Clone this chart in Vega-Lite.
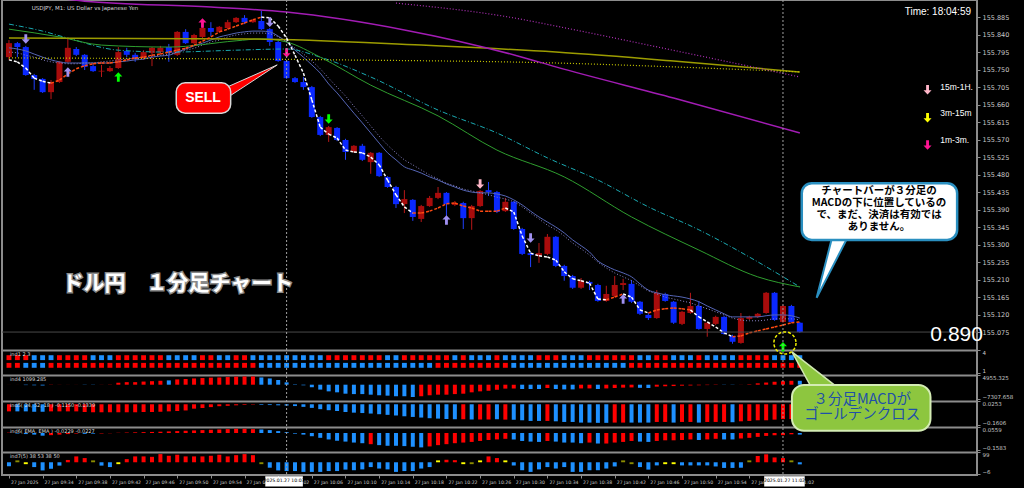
{
"$schema":"https://vega.github.io/schema/vega-lite/v6.json",
"width":975,"height":475,
"autosize":{"type":"none"},
"padding":{"left":2,"top":0,"right":47,"bottom":13},
"background":"#000000",
"config":{"view":{"stroke":"#8c8c8c","strokeWidth":2},"axis":{"labelOverlap":false}},
"datasets":{
"bars":[
{"t":"2025-01-27T09:30","o":155.782,"h":155.826,"l":155.775,"c":155.818,"m1":155.775,"u":0,"m2":155.806,"m3":155.795,"s3":"r","s2":"r","v4":20,"k4":"r","v5":-0.055,"k5":"r","v6":0.003,"k6":"r","v7":31,"k7":"b"},
{"t":"2025-01-27T09:31","o":155.818,"h":155.821,"l":155.782,"c":155.808,"m1":155.770,"u":0,"m2":155.803,"m3":155.793,"s3":"r","s2":"r","v4":20,"k4":"r","v5":-0.055,"k5":"b","v6":-0.005,"k6":"b","v7":59,"k7":"o"},
{"t":"2025-01-27T09:32","o":155.808,"h":155.811,"l":155.734,"c":155.736,"m1":155.754,"u":0,"m2":155.798,"m3":155.787,"s3":"r","s2":"b","v4":-200,"k4":"b","v5":-0.055,"k5":"b","v6":-0.010,"k6":"b","v7":41,"k7":"y"},
{"t":"2025-01-27T09:33","o":155.736,"h":155.739,"l":155.698,"c":155.726,"m1":155.728,"u":0,"m2":155.790,"m3":155.782,"s3":"b","s2":"b","v4":-300,"k4":"b","v5":-0.058,"k5":"b","v6":-0.015,"k6":"b","v7":27,"k7":"b"},
{"t":"2025-01-27T09:34","o":155.726,"h":155.728,"l":155.690,"c":155.692,"m1":155.720,"u":0,"m2":155.782,"m3":155.775,"s3":"b","s2":"b","v4":-400,"k4":"b","v5":-0.058,"k5":"b","v6":-0.025,"k6":"b","v7":11,"k7":"b"},
{"t":"2025-01-27T09:35","o":155.692,"h":155.723,"l":155.674,"c":155.718,"m1":155.715,"u":1,"m2":155.775,"m3":155.770,"s3":"b","s2":"r","v4":-100,"k4":"r","v5":-0.055,"k5":"r","v6":-0.020,"k6":"r","v7":19,"k7":"b"},
{"t":"2025-01-27T09:36","o":155.718,"h":155.772,"l":155.716,"c":155.770,"m1":155.723,"u":1,"m2":155.770,"m3":155.767,"s3":"r","s2":"r","v4":-50,"k4":"r","v5":-0.055,"k5":"r","v6":-0.015,"k6":"r","v7":34,"k7":"b"},
{"t":"2025-01-27T09:37","o":155.770,"h":155.829,"l":155.767,"c":155.806,"m1":155.739,"u":1,"m2":155.767,"m3":155.765,"s3":"r","s2":"r","v4":30,"k4":"r","v5":-0.055,"k5":"r","v6":-0.010,"k6":"r","v7":61,"k7":"r"},
{"t":"2025-01-27T09:38","o":155.803,"h":155.808,"l":155.785,"c":155.788,"m1":155.752,"u":1,"m2":155.767,"m3":155.765,"s3":"r","s2":"r","v4":30,"k4":"r","v5":-0.055,"k5":"r","v6":-0.005,"k6":"r","v7":78,"k7":"r"},
{"t":"2025-01-27T09:39","o":155.788,"h":155.790,"l":155.749,"c":155.757,"m1":155.760,"u":1,"m2":155.767,"m3":155.767,"s3":"r","s2":"r","v4":-100,"k4":"b","v5":-0.060,"k5":"r","v6":-0.008,"k6":"b","v7":70,"k7":"r"},
{"t":"2025-01-27T09:40","o":155.759,"h":155.764,"l":155.744,"c":155.746,"m1":155.765,"u":1,"m2":155.767,"m3":155.767,"s3":"b","s2":"r","v4":-100,"k4":"b","v5":-0.062,"k5":"r","v6":-0.006,"k6":"b","v7":59,"k7":"o"},
{"t":"2025-01-27T09:41","o":155.745,"h":155.762,"l":155.731,"c":155.747,"m1":155.767,"u":1,"m2":155.767,"m3":155.770,"s3":"b","s2":"r","v4":50,"k4":"r","v5":-0.062,"k5":"r","v6":-0.004,"k6":"r","v7":34,"k7":"b"},
{"t":"2025-01-27T09:42","o":155.746,"h":155.759,"l":155.744,"c":155.754,"m1":155.767,"u":1,"m2":155.767,"m3":155.772,"s3":"b","s2":"r","v4":100,"k4":"r","v5":-0.062,"k5":"r","v6":-0.002,"k6":"r","v7":27,"k7":"b"},
{"t":"2025-01-27T09:43","o":155.754,"h":155.808,"l":155.752,"c":155.795,"m1":155.770,"u":1,"m2":155.770,"m3":155.775,"s3":"r","s2":"r","v4":1000,"k4":"r","v5":-0.062,"k5":"r","v6":0.002,"k6":"r","v7":41,"k7":"y"},
{"t":"2025-01-27T09:44","o":155.798,"h":155.806,"l":155.782,"c":155.788,"m1":155.775,"u":1,"m2":155.772,"m3":155.777,"s3":"r","s2":"r","v4":1300,"k4":"r","v5":-0.062,"k5":"r","v6":0.004,"k6":"r","v7":65,"k7":"r"},
{"t":"2025-01-27T09:45","o":155.788,"h":155.793,"l":155.770,"c":155.777,"m1":155.780,"u":1,"m2":155.775,"m3":155.780,"s3":"r","s2":"r","v4":1300,"k4":"r","v5":-0.062,"k5":"r","v6":0.006,"k6":"r","v7":78,"k7":"r"},
{"t":"2025-01-27T09:46","o":155.780,"h":155.800,"l":155.775,"c":155.795,"m1":155.782,"u":1,"m2":155.777,"m3":155.782,"s3":"r","s2":"r","v4":1600,"k4":"r","v5":-0.060,"k5":"r","v6":0.008,"k6":"r","v7":78,"k7":"r"},
{"t":"2025-01-27T09:47","o":155.793,"h":155.808,"l":155.759,"c":155.806,"m1":155.787,"u":1,"m2":155.782,"m3":155.785,"s3":"r","s2":"r","v4":1800,"k4":"r","v5":-0.060,"k5":"r","v6":0.010,"k6":"r","v7":76,"k7":"r"},
{"t":"2025-01-27T09:48","o":155.795,"h":155.811,"l":155.790,"c":155.806,"m1":155.790,"u":1,"m2":155.785,"m3":155.787,"s3":"r","s2":"r","v4":2000,"k4":"r","v5":-0.058,"k5":"r","v6":0.012,"k6":"r","v7":89,"k7":"r"},
{"t":"2025-01-27T09:49","o":155.808,"h":155.816,"l":155.770,"c":155.793,"m1":155.795,"u":1,"m2":155.787,"m3":155.790,"s3":"b","s2":"r","v4":2200,"k4":"b","v5":-0.055,"k5":"r","v6":0.015,"k6":"r","v7":81,"k7":"r"},
{"t":"2025-01-27T09:50","o":155.788,"h":155.849,"l":155.785,"c":155.847,"m1":155.800,"u":1,"m2":155.795,"m3":155.795,"s3":"b","s2":"r","v4":2700,"k4":"r","v5":-0.052,"k5":"r","v6":0.018,"k6":"r","v7":86,"k7":"r"},
{"t":"2025-01-27T09:51","o":155.847,"h":155.854,"l":155.816,"c":155.818,"m1":155.805,"u":1,"m2":155.803,"m3":155.800,"s3":"b","s2":"r","v4":2900,"k4":"r","v5":-0.048,"k5":"r","v6":0.021,"k6":"r","v7":78,"k7":"r"},
{"t":"2025-01-27T09:52","o":155.818,"h":155.842,"l":155.816,"c":155.839,"m1":155.813,"u":1,"m2":155.811,"m3":155.805,"s3":"b","s2":"r","v4":3200,"k4":"r","v5":-0.034,"k5":"r","v6":0.024,"k6":"r","v7":78,"k7":"r"},
{"t":"2025-01-27T09:53","o":155.834,"h":155.865,"l":155.831,"c":155.857,"m1":155.823,"u":1,"m2":155.818,"m3":155.813,"s3":"r","s2":"r","v4":3400,"k4":"r","v5":-0.029,"k5":"r","v6":0.027,"k6":"r","v7":78,"k7":"r"},
{"t":"2025-01-27T09:54","o":155.857,"h":155.872,"l":155.836,"c":155.847,"m1":155.834,"u":1,"m2":155.826,"m3":155.821,"s3":"r","s2":"r","v4":3600,"k4":"r","v5":-0.022,"k5":"r","v6":0.030,"k6":"r","v7":81,"k7":"r"},
{"t":"2025-01-27T09:55","o":155.847,"h":155.862,"l":155.844,"c":155.860,"m1":155.847,"u":1,"m2":155.834,"m3":155.826,"s3":"b","s2":"r","v4":3700,"k4":"r","v5":-0.015,"k5":"r","v6":0.033,"k6":"r","v7":86,"k7":"r"},
{"t":"2025-01-27T09:56","o":155.857,"h":155.878,"l":155.854,"c":155.872,"m1":155.854,"u":1,"m2":155.839,"m3":155.834,"s3":"b","s2":"r","v4":3900,"k4":"r","v5":-0.012,"k5":"r","v6":0.036,"k6":"r","v7":78,"k7":"r"},
{"t":"2025-01-27T09:57","o":155.872,"h":155.885,"l":155.870,"c":155.883,"m1":155.862,"u":1,"m2":155.844,"m3":155.839,"s3":"r","s2":"r","v4":4100,"k4":"r","v5":-0.008,"k5":"r","v6":0.039,"k6":"r","v7":84,"k7":"r"},
{"t":"2025-01-27T09:58","o":155.883,"h":155.890,"l":155.867,"c":155.872,"m1":155.870,"u":1,"m2":155.847,"m3":155.842,"s3":"r","s2":"r","v4":4200,"k4":"r","v5":-0.005,"k5":"r","v6":0.039,"k6":"r","v7":89,"k7":"r"},
{"t":"2025-01-27T09:59","o":155.872,"h":155.880,"l":155.870,"c":155.878,"m1":155.878,"u":1,"m2":155.849,"m3":155.844,"s3":"b","s2":"r","v4":4200,"k4":"r","v5":-0.003,"k5":"r","v6":0.036,"k6":"r","v7":84,"k7":"r"},
{"t":"2025-01-27T10:00","o":155.875,"h":155.901,"l":155.852,"c":155.854,"m1":155.885,"u":0,"m2":155.849,"m3":155.844,"s3":"b","s2":"b","v4":3700,"k4":"b","v5":-0.005,"k5":"b","v6":0.033,"k6":"b","v7":41,"k7":"o"},
{"t":"2025-01-27T10:01","o":155.854,"h":155.857,"l":155.811,"c":155.821,"m1":155.883,"u":0,"m2":155.847,"m3":155.842,"s3":"b","s2":"b","v4":3200,"k4":"b","v5":-0.006,"k5":"b","v6":0.027,"k6":"b","v7":24,"k7":"b"},
{"t":"2025-01-27T10:02","o":155.821,"h":155.824,"l":155.770,"c":155.772,"m1":155.862,"u":0,"m2":155.836,"m3":155.834,"s3":"b","s2":"b","v4":2400,"k4":"b","v5":-0.008,"k5":"b","v6":0.018,"k6":"b","v7":11,"k7":"b"},
{"t":"2025-01-27T10:03","o":155.772,"h":155.775,"l":155.726,"c":155.728,"m1":155.831,"u":0,"m2":155.821,"m3":155.821,"s3":"b","s2":"b","v4":1200,"k4":"b","v5":-0.010,"k5":"b","v6":0.008,"k6":"b","v7":8,"k7":"b"},
{"t":"2025-01-27T10:04","o":155.728,"h":155.731,"l":155.716,"c":155.718,"m1":155.787,"u":0,"m2":155.800,"m3":155.805,"s3":"b","s2":"b","v4":200,"k4":"b","v5":-0.014,"k5":"b","v6":-0.006,"k6":"b","v7":8,"k7":"b"},
{"t":"2025-01-27T10:05","o":155.718,"h":155.731,"l":155.698,"c":155.705,"m1":155.741,"u":0,"m2":155.782,"m3":155.790,"s3":"b","s2":"b","v4":-300,"k4":"b","v5":-0.020,"k5":"b","v6":-0.015,"k6":"b","v7":4,"k7":"b"},
{"t":"2025-01-27T10:06","o":155.705,"h":155.708,"l":155.626,"c":155.628,"m1":155.672,"u":0,"m2":155.762,"m3":155.772,"s3":"b","s2":"b","v4":-1300,"k4":"b","v5":-0.028,"k5":"b","v6":-0.030,"k6":"b","v7":4,"k7":"b"},
{"t":"2025-01-27T10:07","o":155.628,"h":155.631,"l":155.579,"c":155.582,"m1":155.602,"u":0,"m2":155.741,"m3":155.752,"s3":"b","s2":"b","v4":-2500,"k4":"b","v5":-0.038,"k5":"b","v6":-0.045,"k6":"b","v7":4,"k7":"b"},
{"t":"2025-01-27T10:08","o":155.582,"h":155.605,"l":155.564,"c":155.602,"m1":155.584,"u":0,"m2":155.713,"m3":155.728,"s3":"r","s2":"b","v4":-3400,"k4":"b","v5":-0.046,"k5":"b","v6":-0.060,"k6":"b","v7":8,"k7":"b"},
{"t":"2025-01-27T10:09","o":155.600,"h":155.602,"l":155.566,"c":155.569,"m1":155.574,"u":0,"m2":155.690,"m3":155.705,"s3":"r","s2":"b","v4":-3900,"k4":"b","v5":-0.052,"k5":"b","v6":-0.072,"k6":"b","v7":8,"k7":"b"},
{"t":"2025-01-27T10:10","o":155.569,"h":155.572,"l":155.518,"c":155.538,"m1":155.543,"u":0,"m2":155.664,"m3":155.682,"s3":"r","s2":"b","v4":-4600,"k4":"b","v5":-0.060,"k5":"b","v6":-0.080,"k6":"b","v7":15,"k7":"b"},
{"t":"2025-01-27T10:11","o":155.538,"h":155.556,"l":155.536,"c":155.554,"m1":155.538,"u":0,"m2":155.638,"m3":155.656,"s3":"r","s2":"b","v4":-4800,"k4":"b","v5":-0.065,"k5":"b","v6":-0.089,"k6":"b","v7":12,"k7":"b"},
{"t":"2025-01-27T10:12","o":155.554,"h":155.559,"l":155.515,"c":155.518,"m1":155.536,"u":0,"m2":155.613,"m3":155.631,"s3":"r","s2":"b","v4":-4800,"k4":"b","v5":-0.068,"k5":"b","v6":-0.095,"k6":"b","v7":16,"k7":"b"},
{"t":"2025-01-27T10:13","o":155.512,"h":155.538,"l":155.482,"c":155.536,"m1":155.525,"u":0,"m2":155.587,"m3":155.605,"s3":"r","s2":"b","v4":-5100,"k4":"b","v5":-0.072,"k5":"b","v6":-0.104,"k6":"r","v7":27,"k7":"b"},
{"t":"2025-01-27T10:14","o":155.536,"h":155.538,"l":155.474,"c":155.476,"m1":155.505,"u":0,"m2":155.561,"m3":155.579,"s3":"r","s2":"b","v4":-5400,"k4":"b","v5":-0.077,"k5":"b","v6":-0.113,"k6":"b","v7":20,"k7":"b"},
{"t":"2025-01-27T10:15","o":155.474,"h":155.476,"l":155.446,"c":155.448,"m1":155.466,"u":0,"m2":155.536,"m3":155.556,"s3":"b","s2":"b","v4":-5600,"k4":"b","v5":-0.082,"k5":"b","v6":-0.119,"k6":"b","v7":16,"k7":"b"},
{"t":"2025-01-27T10:16","o":155.448,"h":155.451,"l":155.394,"c":155.404,"m1":155.428,"u":0,"m2":155.518,"m3":155.536,"s3":"b","s2":"b","v4":-5900,"k4":"b","v5":-0.087,"k5":"b","v6":-0.119,"k6":"b","v7":4,"k7":"b"},
{"t":"2025-01-27T10:17","o":155.404,"h":155.440,"l":155.381,"c":155.417,"m1":155.397,"u":0,"m2":155.500,"m3":155.518,"s3":"r","s2":"b","v4":-5900,"k4":"b","v5":-0.093,"k5":"b","v6":-0.122,"k6":"b","v7":8,"k7":"b"},
{"t":"2025-01-27T10:18","o":155.415,"h":155.417,"l":155.361,"c":155.371,"m1":155.381,"u":1,"m2":155.492,"m3":155.505,"s3":"r","s2":"b","v4":-6300,"k4":"b","v5":-0.098,"k5":"b","v6":-0.128,"k6":"b","v7":8,"k7":"b"},
{"t":"2025-01-27T10:19","o":155.366,"h":155.402,"l":155.358,"c":155.399,"m1":155.381,"u":1,"m2":155.484,"m3":155.492,"s3":"r","s2":"b","v4":-5900,"k4":"r","v5":-0.103,"k5":"b","v6":-0.134,"k6":"b","v7":20,"k7":"b"},
{"t":"2025-01-27T10:20","o":155.399,"h":155.425,"l":155.397,"c":155.420,"m1":155.386,"u":1,"m2":155.474,"m3":155.479,"s3":"r","s2":"b","v4":-5400,"k4":"r","v5":-0.108,"k5":"b","v6":-0.125,"k6":"r","v7":27,"k7":"b"},
{"t":"2025-01-27T10:21","o":155.420,"h":155.448,"l":155.417,"c":155.433,"m1":155.394,"u":1,"m2":155.466,"m3":155.469,"s3":"r","s2":"r","v4":-5100,"k4":"r","v5":-0.111,"k5":"b","v6":-0.113,"k6":"r","v7":59,"k7":"y"},
{"t":"2025-01-27T10:22","o":155.433,"h":155.435,"l":155.358,"c":155.404,"m1":155.405,"u":1,"m2":155.456,"m3":155.458,"s3":"r","s2":"r","v4":-5100,"k4":"r","v5":-0.114,"k5":"b","v6":-0.104,"k6":"r","v7":62,"k7":"r"},
{"t":"2025-01-27T10:23","o":155.402,"h":155.412,"l":155.399,"c":155.407,"m1":155.407,"u":1,"m2":155.448,"m3":155.451,"s3":"b","s2":"r","v4":-4800,"k4":"r","v5":-0.116,"k5":"b","v6":-0.095,"k6":"r","v7":60,"k7":"r"},
{"t":"2025-01-27T10:24","o":155.407,"h":155.410,"l":155.340,"c":155.368,"m1":155.399,"u":1,"m2":155.440,"m3":155.443,"s3":"r","s2":"r","v4":-4600,"k4":"r","v5":-0.116,"k5":"r","v6":-0.089,"k6":"r","v7":41,"k7":"y"},
{"t":"2025-01-27T10:25","o":155.368,"h":155.402,"l":155.338,"c":155.399,"m1":155.394,"u":1,"m2":155.435,"m3":155.438,"s3":"b","s2":"r","v4":-3900,"k4":"r","v5":-0.118,"k5":"b","v6":-0.083,"k6":"r","v7":41,"k7":"o"},
{"t":"2025-01-27T10:26","o":155.399,"h":155.440,"l":155.397,"c":155.438,"m1":155.386,"u":1,"m2":155.433,"m3":155.433,"s3":"b","s2":"r","v4":-3400,"k4":"r","v5":-0.118,"k5":"r","v6":-0.074,"k6":"r","v7":59,"k7":"y"},
{"t":"2025-01-27T10:27","o":155.440,"h":155.461,"l":155.425,"c":155.435,"m1":155.386,"u":1,"m2":155.433,"m3":155.428,"s3":"b","s2":"r","v4":-3100,"k4":"r","v5":-0.118,"k5":"r","v6":-0.065,"k6":"r","v7":78,"k7":"r"},
{"t":"2025-01-27T10:28","o":155.435,"h":155.438,"l":155.381,"c":155.384,"m1":155.386,"u":1,"m2":155.430,"m3":155.422,"s3":"r","s2":"r","v4":-2600,"k4":"r","v5":-0.116,"k5":"b","v6":-0.060,"k6":"r","v7":70,"k7":"r"},
{"t":"2025-01-27T10:29","o":155.386,"h":155.420,"l":155.384,"c":155.410,"m1":155.394,"u":0,"m2":155.425,"m3":155.417,"s3":"b","s2":"r","v4":-2000,"k4":"r","v5":-0.119,"k5":"r","v6":-0.054,"k6":"r","v7":59,"k7":"y"},
{"t":"2025-01-27T10:30","o":155.410,"h":155.412,"l":155.338,"c":155.340,"m1":155.384,"u":0,"m2":155.415,"m3":155.410,"s3":"b","s2":"b","v4":-2000,"k4":"r","v5":-0.119,"k5":"b","v6":-0.060,"k6":"b","v7":35,"k7":"b"},
{"t":"2025-01-27T10:31","o":155.340,"h":155.343,"l":155.273,"c":155.276,"m1":155.322,"u":0,"m2":155.402,"m3":155.397,"s3":"b","s2":"b","v4":-2200,"k4":"b","v5":-0.124,"k5":"b","v6":-0.074,"k6":"b","v7":12,"k7":"b"},
{"t":"2025-01-27T10:32","o":155.278,"h":155.281,"l":155.242,"c":155.273,"m1":155.278,"u":0,"m2":155.386,"m3":155.381,"s3":"b","s2":"b","v4":-2200,"k4":"b","v5":-0.129,"k5":"b","v6":-0.080,"k6":"b","v7":4,"k7":"b"},
{"t":"2025-01-27T10:33","o":155.271,"h":155.304,"l":155.253,"c":155.278,"m1":155.271,"u":0,"m2":155.371,"m3":155.366,"s3":"r","s2":"b","v4":-2200,"k4":"b","v5":-0.129,"k5":"b","v6":-0.083,"k6":"b","v7":16,"k7":"b"},
{"t":"2025-01-27T10:34","o":155.276,"h":155.327,"l":155.273,"c":155.320,"m1":155.268,"u":0,"m2":155.358,"m3":155.350,"s3":"r","s2":"b","v4":-1700,"k4":"r","v5":-0.129,"k5":"r","v6":-0.074,"k6":"r","v7":27,"k7":"b"},
{"t":"2025-01-27T10:35","o":155.320,"h":155.322,"l":155.242,"c":155.245,"m1":155.260,"u":0,"m2":155.345,"m3":155.338,"s3":"r","s2":"b","v4":-2200,"k4":"b","v5":-0.132,"k5":"b","v6":-0.080,"k6":"b","v7":20,"k7":"b"},
{"t":"2025-01-27T10:36","o":155.245,"h":155.248,"l":155.207,"c":155.219,"m1":155.230,"u":0,"m2":155.330,"m3":155.322,"s3":"b","s2":"b","v4":-2400,"k4":"b","v5":-0.137,"k5":"b","v6":-0.089,"k6":"b","v7":27,"k7":"b"},
{"t":"2025-01-27T10:37","o":155.219,"h":155.222,"l":155.186,"c":155.189,"m1":155.212,"u":0,"m2":155.312,"m3":155.304,"s3":"b","s2":"b","v4":-2400,"k4":"b","v5":-0.137,"k5":"b","v6":-0.089,"k6":"b","v7":4,"k7":"b"},
{"t":"2025-01-27T10:38","o":155.189,"h":155.214,"l":155.186,"c":155.207,"m1":155.207,"u":0,"m2":155.297,"m3":155.289,"s3":"b","s2":"b","v4":-1900,"k4":"r","v5":-0.142,"k5":"b","v6":-0.095,"k6":"b","v7":4,"k7":"b"},
{"t":"2025-01-27T10:39","o":155.204,"h":155.207,"l":155.183,"c":155.199,"m1":155.201,"u":0,"m2":155.281,"m3":155.273,"s3":"r","s2":"b","v4":-1900,"k4":"r","v5":-0.142,"k5":"b","v6":-0.089,"k6":"r","v7":12,"k7":"b"},
{"t":"2025-01-27T10:40","o":155.196,"h":155.199,"l":155.153,"c":155.155,"m1":155.160,"u":0,"m2":155.258,"m3":155.255,"s3":"r","s2":"b","v4":-2200,"k4":"b","v5":-0.144,"k5":"b","v6":-0.098,"k6":"b","v7":12,"k7":"b"},
{"t":"2025-01-27T10:41","o":155.155,"h":155.194,"l":155.153,"c":155.173,"m1":155.158,"u":1,"m2":155.245,"m3":155.240,"s3":"r","s2":"b","v4":-1900,"k4":"r","v5":-0.144,"k5":"b","v6":-0.098,"k6":"r","v7":20,"k7":"b"},
{"t":"2025-01-27T10:42","o":155.168,"h":155.219,"l":155.165,"c":155.196,"m1":155.165,"u":1,"m2":155.235,"m3":155.227,"s3":"r","s2":"b","v4":-1700,"k4":"r","v5":-0.142,"k5":"r","v6":-0.089,"k6":"r","v7":30,"k7":"b"},
{"t":"2025-01-27T10:43","o":155.196,"h":155.212,"l":155.183,"c":155.201,"m1":155.173,"u":0,"m2":155.227,"m3":155.217,"s3":"r","s2":"b","v4":-1500,"k4":"r","v5":-0.142,"k5":"r","v6":-0.083,"k6":"r","v7":59,"k7":"o"},
{"t":"2025-01-27T10:44","o":155.199,"h":155.209,"l":155.150,"c":155.153,"m1":155.165,"u":0,"m2":155.217,"m3":155.207,"s3":"r","s2":"r","v4":-1400,"k4":"r","v5":-0.142,"k5":"b","v6":-0.074,"k6":"r","v7":41,"k7":"o"},
{"t":"2025-01-27T10:45","o":155.153,"h":155.155,"l":155.119,"c":155.122,"m1":155.132,"u":0,"m2":155.199,"m3":155.194,"s3":"b","s2":"r","v4":-1600,"k4":"b","v5":-0.142,"k5":"b","v6":-0.080,"k6":"b","v7":27,"k7":"b"},
{"t":"2025-01-27T10:46","o":155.119,"h":155.124,"l":155.106,"c":155.111,"m1":155.124,"u":1,"m2":155.183,"m3":155.181,"s3":"b","s2":"r","v4":-1700,"k4":"b","v5":-0.142,"k5":"b","v6":-0.083,"k6":"b","v7":15,"k7":"b"},
{"t":"2025-01-27T10:47","o":155.111,"h":155.183,"l":155.109,"c":155.176,"m1":155.132,"u":1,"m2":155.176,"m3":155.173,"s3":"r","s2":"r","v4":-1000,"k4":"r","v5":-0.137,"k5":"r","v6":-0.074,"k6":"r","v7":35,"k7":"b"},
{"t":"2025-01-27T10:48","o":155.173,"h":155.176,"l":155.153,"c":155.155,"m1":155.135,"u":1,"m2":155.171,"m3":155.165,"s3":"r","s2":"r","v4":-800,"k4":"r","v5":-0.137,"k5":"r","v6":-0.068,"k6":"r","v7":41,"k7":"y"},
{"t":"2025-01-27T10:49","o":155.153,"h":155.155,"l":155.096,"c":155.099,"m1":155.137,"u":1,"m2":155.168,"m3":155.160,"s3":"b","s2":"r","v4":-700,"k4":"r","v5":-0.142,"k5":"b","v6":-0.068,"k6":"r","v7":41,"k7":"y"},
{"t":"2025-01-27T10:50","o":155.096,"h":155.129,"l":155.093,"c":155.127,"m1":155.135,"u":1,"m2":155.165,"m3":155.155,"s3":"b","s2":"r","v4":-500,"k4":"r","v5":-0.137,"k5":"r","v6":-0.065,"k6":"r","v7":35,"k7":"b"},
{"t":"2025-01-27T10:51","o":155.124,"h":155.176,"l":155.122,"c":155.142,"m1":155.132,"u":0,"m2":155.160,"m3":155.150,"s3":"b","s2":"r","v4":-400,"k4":"r","v5":-0.137,"k5":"r","v6":-0.060,"k6":"r","v7":35,"k7":"b"},
{"t":"2025-01-27T10:52","o":155.142,"h":155.155,"l":155.081,"c":155.083,"m1":155.114,"u":0,"m2":155.153,"m3":155.142,"s3":"r","s2":"r","v4":-300,"k4":"r","v5":-0.142,"k5":"b","v6":-0.065,"k6":"b","v7":35,"k7":"b"},
{"t":"2025-01-27T10:53","o":155.083,"h":155.101,"l":155.063,"c":155.099,"m1":155.101,"u":0,"m2":155.142,"m3":155.135,"s3":"b","s2":"r","v4":-200,"k4":"r","v5":-0.137,"k5":"r","v6":-0.060,"k6":"r","v7":35,"k7":"b"},
{"t":"2025-01-27T10:54","o":155.096,"h":155.117,"l":155.093,"c":155.114,"m1":155.088,"u":0,"m2":155.132,"m3":155.127,"s3":"b","s2":"r","v4":-150,"k4":"r","v5":-0.137,"k5":"r","v6":-0.054,"k6":"r","v7":30,"k7":"b"},
{"t":"2025-01-27T10:55","o":155.114,"h":155.117,"l":155.068,"c":155.070,"m1":155.073,"u":0,"m2":155.122,"m3":155.119,"s3":"b","s2":"r","v4":-100,"k4":"b","v5":-0.137,"k5":"r","v6":-0.060,"k6":"b","v7":23,"k7":"b"},
{"t":"2025-01-27T10:56","o":155.065,"h":155.068,"l":155.045,"c":155.050,"m1":155.063,"u":1,"m2":155.114,"m3":155.111,"s3":"b","s2":"r","v4":-100,"k4":"b","v5":-0.139,"k5":"b","v6":-0.060,"k6":"b","v7":23,"k7":"b"},
{"t":"2025-01-27T10:57","o":155.047,"h":155.124,"l":155.045,"c":155.111,"m1":155.065,"u":1,"m2":155.114,"m3":155.106,"s3":"r","s2":"r","v4":50,"k4":"r","v5":-0.132,"k5":"r","v6":-0.051,"k6":"r","v7":24,"k7":"b"},
{"t":"2025-01-27T10:58","o":155.109,"h":155.117,"l":155.106,"c":155.114,"m1":155.073,"u":1,"m2":155.114,"m3":155.104,"s3":"r","s2":"r","v4":200,"k4":"r","v5":-0.129,"k5":"r","v6":-0.045,"k6":"r","v7":59,"k7":"o"},
{"t":"2025-01-27T10:59","o":155.114,"h":155.124,"l":155.111,"c":155.122,"m1":155.078,"u":1,"m2":155.114,"m3":155.104,"s3":"r","s2":"r","v4":700,"k4":"r","v5":-0.124,"k5":"r","v6":-0.036,"k6":"r","v7":80,"k7":"r"},
{"t":"2025-01-27T11:00","o":155.124,"h":155.178,"l":155.122,"c":155.176,"m1":155.083,"u":1,"m2":155.117,"m3":155.106,"s3":"r","s2":"r","v4":1100,"k4":"r","v5":-0.124,"k5":"r","v6":-0.027,"k6":"r","v7":88,"k7":"r"},
{"t":"2025-01-27T11:01","o":155.176,"h":155.178,"l":155.104,"c":155.106,"m1":155.088,"u":1,"m2":155.119,"m3":155.109,"s3":"b","s2":"r","v4":1500,"k4":"r","v5":-0.119,"k5":"r","v6":-0.021,"k6":"r","v7":73,"k7":"r"},
{"t":"2025-01-27T11:02","o":155.101,"h":155.145,"l":155.099,"c":155.142,"m1":155.093,"u":1,"m2":155.119,"m3":155.109,"s3":"b","s2":"r","v4":1800,"k4":"r","v5":-0.115,"k5":"r","v6":-0.020,"k6":"r","v7":70,"k7":"r"},
{"t":"2025-01-27T11:03","o":155.142,"h":155.145,"l":155.099,"c":155.101,"m1":155.099,"u":1,"m2":155.117,"m3":155.109,"s3":"b","s2":"r","v4":2000,"k4":"r","v5":-0.115,"k5":"r","v6":-0.012,"k6":"r","v7":59,"k7":"o"},
{"t":"2025-01-27T11:04","o":155.099,"h":155.101,"l":155.073,"c":155.075,"m1":155.101,"u":0,"m2":155.111,"m3":155.106,"s3":"b","s2":"r","v4":2000,"k4":"b","v5":-0.112,"k5":"b","v6":-0.015,"k6":"b","v7":40,"k7":"b"}
],
"slow":[
{"k":"cy","t":"2025-01-27T09:30","p":155.867},{"k":"cy","t":"2025-01-27T09:34","p":155.849},{"k":"cy","t":"2025-01-27T09:37","p":155.831},{"k":"cy","t":"2025-01-27T09:43","p":155.800},{"k":"cy","t":"2025-01-27T09:49","p":155.795},{"k":"cy","t":"2025-01-27T09:57","p":155.800},{"k":"cy","t":"2025-01-27T10:03","p":155.803},{"k":"cy","t":"2025-01-27T10:07","p":155.782},{"k":"cy","t":"2025-01-27T10:13","p":155.731},{"k":"cy","t":"2025-01-27T10:21","p":155.646},{"k":"cy","t":"2025-01-27T10:28","p":155.587},{"k":"cy","t":"2025-01-27T10:34","p":155.523},{"k":"cy","t":"2025-01-27T10:40","p":155.466},{"k":"cy","t":"2025-01-27T10:46","p":155.397},{"k":"cy","t":"2025-01-27T10:52","p":155.338},{"k":"cy","t":"2025-01-27T10:58","p":155.268},{"k":"cy","t":"2025-01-27T11:04","p":155.191},
{"k":"gr","t":"2025-01-27T09:30","p":155.854},{"k":"gr","t":"2025-01-27T09:36","p":155.834},{"k":"gr","t":"2025-01-27T09:41","p":155.813},{"k":"gr","t":"2025-01-27T09:49","p":155.808},{"k":"gr","t":"2025-01-27T09:57","p":155.824},{"k":"gr","t":"2025-01-27T10:00","p":155.829},{"k":"gr","t":"2025-01-27T10:03","p":155.821},{"k":"gr","t":"2025-01-27T10:07","p":155.782},{"k":"gr","t":"2025-01-27T10:13","p":155.710},{"k":"gr","t":"2025-01-27T10:21","p":155.631},{"k":"gr","t":"2025-01-27T10:28","p":155.543},{"k":"gr","t":"2025-01-27T10:36","p":155.474},{"k":"gr","t":"2025-01-27T10:44","p":155.371},{"k":"gr","t":"2025-01-27T10:52","p":155.286},{"k":"gr","t":"2025-01-27T10:59","p":155.217},{"k":"gr","t":"2025-01-27T11:04","p":155.191},
{"k":"ol","t":"2025-01-27T09:30","p":155.831},{"k":"ol","t":"2025-01-27T09:59","p":155.829},{"k":"ol","t":"2025-01-27T10:19","p":155.813},{"k":"ol","t":"2025-01-27T10:35","p":155.795},{"k":"ol","t":"2025-01-27T10:49","p":155.772},{"k":"ol","t":"2025-01-27T11:04","p":155.744},
{"k":"yd","t":"2025-01-27T09:30","p":155.780},{"k":"yd","t":"2025-01-27T10:09","p":155.775},{"k":"yd","t":"2025-01-27T10:35","p":155.767},{"k":"yd","t":"2025-01-27T10:49","p":155.757},{"k":"yd","t":"2025-01-27T11:04","p":155.744},
{"k":"mg","t":"2025-01-27T09:35","p":155.936},{"k":"mg","t":"2025-01-27T09:39","p":155.926},{"k":"mg","t":"2025-01-27T09:54","p":155.911},{"k":"mg","t":"2025-01-27T10:03","p":155.898},{"k":"mg","t":"2025-01-27T10:17","p":155.852},{"k":"mg","t":"2025-01-27T10:31","p":155.782},{"k":"mg","t":"2025-01-27T10:35","p":155.757},{"k":"mg","t":"2025-01-27T10:49","p":155.677},{"k":"mg","t":"2025-01-27T11:04","p":155.587},
{"k":"md","t":"2025-01-27T10:16","p":155.921},{"k":"md","t":"2025-01-27T10:30","p":155.883},{"k":"md","t":"2025-01-27T10:35","p":155.862},{"k":"md","t":"2025-01-27T10:48","p":155.804},{"k":"md","t":"2025-01-27T11:04","p":155.731}
],
"arrows":[
{"t":"2025-01-27T09:32","p":155.829,"d":"d","c":"pu"},
{"t":"2025-01-27T09:37","p":155.744,"d":"u","c":"pu"},
{"t":"2025-01-27T09:43","p":155.731,"d":"u","c":"gr"},
{"t":"2025-01-27T09:53","p":155.870,"d":"u","c":"mg"},
{"t":"2025-01-27T10:01","p":155.872,"d":"d","c":"pu"},
{"t":"2025-01-27T10:03","p":155.793,"d":"d","c":"mg"},
{"t":"2025-01-27T10:08","p":155.623,"d":"d","c":"gr"},
{"t":"2025-01-27T10:22","p":155.363,"d":"u","c":"pu"},
{"t":"2025-01-27T10:26","p":155.456,"d":"d","c":"lp"},
{"t":"2025-01-27T10:32","p":155.317,"d":"d","c":"pu"},
{"t":"2025-01-27T10:43","p":155.160,"d":"u","c":"pu"},
{"t":"2025-01-27T11:02","p":155.037,"d":"u","c":"gr"},
{"t":"2025-01-27T11:19:11","p":155.698,"d":"d","c":"lp"},
{"t":"2025-01-27T11:19:11","p":155.626,"d":"d","c":"ye"},
{"t":"2025-01-27T11:19:11","p":155.556,"d":"d","c":"mg"}
]
},
"layer":[
{"layer":[
{"data":{"name":"bars"},"mark":{"type":"rule","strokeWidth":1},
"encoding":{
"x":{"field":"t","type":"temporal",
"scale":{"domain":[{"year":2025,"month":1,"date":27,"hours":9,"minutes":29,"seconds":46},{"year":2025,"month":1,"date":27,"hours":11,"minutes":24,"seconds":28}]},
"axis":{"orient":"bottom","title":null,"grid":false,"domain":false,"tickSize":3,"tickColor":"#8c8c8c","labelFontSize":4.6,"labelColor":"#c8c8c8","labelFont":"DejaVu Sans","labelAlign":"left","labelOffset":1.5,"labelPadding":1,"labelOverlap":false,"labelBound":false,"labelFlush":false,
"labelExpr":"hours(datum.value) == 9 && minutes(datum.value) == 30 ? '27 Jan 2025' : timeFormat(datum.value, '%d %b %H:%M')",
"values":[
{"year":2025,"month":1,"date":27,"hours":9,"minutes":30},{"year":2025,"month":1,"date":27,"hours":9,"minutes":34},{"year":2025,"month":1,"date":27,"hours":9,"minutes":38},{"year":2025,"month":1,"date":27,"hours":9,"minutes":42},{"year":2025,"month":1,"date":27,"hours":9,"minutes":46},{"year":2025,"month":1,"date":27,"hours":9,"minutes":50},{"year":2025,"month":1,"date":27,"hours":9,"minutes":54},{"year":2025,"month":1,"date":27,"hours":9,"minutes":58},{"year":2025,"month":1,"date":27,"hours":10,"minutes":2},{"year":2025,"month":1,"date":27,"hours":10,"minutes":6},{"year":2025,"month":1,"date":27,"hours":10,"minutes":10},{"year":2025,"month":1,"date":27,"hours":10,"minutes":14},{"year":2025,"month":1,"date":27,"hours":10,"minutes":18},{"year":2025,"month":1,"date":27,"hours":10,"minutes":22},{"year":2025,"month":1,"date":27,"hours":10,"minutes":26},{"year":2025,"month":1,"date":27,"hours":10,"minutes":30},{"year":2025,"month":1,"date":27,"hours":10,"minutes":34},{"year":2025,"month":1,"date":27,"hours":10,"minutes":38},{"year":2025,"month":1,"date":27,"hours":10,"minutes":42},{"year":2025,"month":1,"date":27,"hours":10,"minutes":46},{"year":2025,"month":1,"date":27,"hours":10,"minutes":50},{"year":2025,"month":1,"date":27,"hours":10,"minutes":54},{"year":2025,"month":1,"date":27,"hours":10,"minutes":58},{"year":2025,"month":1,"date":27,"hours":11,"minutes":2}]}},
"y":{"field":"l","type":"quantitative","scale":{"domain":[155.034,155.929],"range":[348,0],"zero":false,"nice":false},"axis":null},
"y2":{"field":"h"},
"color":{"condition":{"test":"datum.c >= datum.o","value":"#b81818"},"value":"#2040ff"}}},
{"data":{"name":"bars"},"mark":{"type":"bar","size":6},
"encoding":{"x":{"field":"t","type":"temporal"},"y":{"field":"o","type":"quantitative","axis":null},"y2":{"field":"c"},
"color":{"condition":{"test":"datum.c >= datum.o","value":"#a80c0c"},"value":"#0a28ff"}}},
{"data":{"name":"bars"},"mark":{"type":"line","color":"#5565b5","strokeWidth":1,"interpolate":"monotone"},
"encoding":{"x":{"field":"t","type":"temporal"},"y":{"field":"m2","type":"quantitative","axis":null}}},
{"data":{"name":"bars"},"mark":{"type":"line","color":"#8a84c8","strokeWidth":1,"strokeDash":[1,2],"interpolate":"monotone"},
"encoding":{"x":{"field":"t","type":"temporal"},"y":{"field":"m3","type":"quantitative","axis":null}}},
{"data":{"name":"slow"},"transform":[{"filter":"datum.k == 'cy'"}],"mark":{"type":"line","color":"#1aa8b0","strokeWidth":1,"strokeDash":[5,2,1,2],"interpolate":"monotone"},
"encoding":{"x":{"field":"t","type":"temporal"},"y":{"field":"p","type":"quantitative","axis":null}}},
{"data":{"name":"slow"},"transform":[{"filter":"datum.k == 'gr'"}],"mark":{"type":"line","color":"#2f9e2f","strokeWidth":1,"interpolate":"monotone"},
"encoding":{"x":{"field":"t","type":"temporal"},"y":{"field":"p","type":"quantitative","axis":null}}},
{"data":{"name":"slow"},"transform":[{"filter":"datum.k == 'ol'"}],"mark":{"type":"line","color":"#9c9c00","strokeWidth":1.5,"interpolate":"monotone"},
"encoding":{"x":{"field":"t","type":"temporal"},"y":{"field":"p","type":"quantitative","axis":null}}},
{"data":{"name":"slow"},"transform":[{"filter":"datum.k == 'yd'"}],"mark":{"type":"line","color":"#c8c800","strokeWidth":1.2,"strokeDash":[1,2],"interpolate":"monotone"},
"encoding":{"x":{"field":"t","type":"temporal"},"y":{"field":"p","type":"quantitative","axis":null}}},
{"data":{"name":"slow"},"transform":[{"filter":"datum.k == 'mg'"}],"mark":{"type":"line","color":"#a21cb4","strokeWidth":1.5,"interpolate":"monotone"},
"encoding":{"x":{"field":"t","type":"temporal"},"y":{"field":"p","type":"quantitative","axis":null}}},
{"data":{"name":"slow"},"transform":[{"filter":"datum.k == 'md'"}],"mark":{"type":"line","color":"#b030b8","strokeWidth":1.2,"strokeDash":[1,2],"interpolate":"monotone"},
"encoding":{"x":{"field":"t","type":"temporal"},"y":{"field":"p","type":"quantitative","axis":null}}},
{"data":{"name":"bars","format":{"parse":{"t":"date"}}},
"transform":[{"window":[{"op":"lead","field":"m1","as":"m1n"},{"op":"lead","field":"t","as":"tn"}],"sort":[{"field":"t","order":"ascending"}]},{"filter":"datum.tn != null"}],
"mark":{"type":"rule","strokeWidth":1.5,"strokeDash":[3,2]},
"encoding":{"x":{"field":"t","type":"temporal"},"x2":{"field":"tn"},"y":{"field":"m1","type":"quantitative","axis":null},"y2":{"field":"m1n"},
"color":{"condition":{"test":"datum.u == 1","value":"#ff4a12"},"value":"#ffffff"}}},
{"data":{"name":"arrows"},"mark":{"type":"point","filled":true,"size":90,"opacity":1},
"encoding":{"x":{"field":"t","type":"temporal"},"y":{"field":"p","type":"quantitative","axis":null},
"shape":{"field":"d","type":"nominal","legend":null,"scale":{"domain":["u","d"],"range":["M-0.3,1L0.3,1L0.3,-0.1L0.85,-0.1L0,-1L-0.85,-0.1L-0.3,-0.1Z","M-0.3,-1L0.3,-1L0.3,0.1L0.85,0.1L0,1L-0.85,0.1L-0.3,0.1Z"]}},
"color":{"field":"c","type":"nominal","legend":null,"scale":{"domain":["pu","gr","mg","lp","ye"],"range":["#a090f0","#00ff00","#ff1493","#ffb6c8","#ffff00"]}}}}
]},
{"data":{"values":[{"p":155.075}]},"mark":{"type":"rule","color":"#4a4a4a","strokeWidth":1},
"encoding":{"y":{"field":"p","type":"quantitative","scale":{"domain":[155.034,155.929],"range":[348,0],"zero":false,"nice":false},
"axis":{"orient":"right","title":null,"grid":false,"domain":false,"format":".3f","tickSize":3,"tickColor":"#8c8c8c","labelFontSize":6.5,"labelColor":"#c8c8c8","labelFont":"DejaVu Sans","labelPadding":2,"labelOverlap":false,"labelBound":false,
"values":[155.075,155.12,155.165,155.21,155.255,155.3,155.345,155.39,155.435,155.48,155.525,155.57,155.615,155.66,155.705,155.75,155.795,155.84,155.885]}}}},
{"layer":[
{"data":{"name":"bars"},"mark":{"type":"point","shape":"square","filled":true,"size":24,"opacity":1},
"encoding":{"x":{"field":"t","type":"temporal"},
"y":{"datum":3,"type":"quantitative","scale":{"domain":[1,4],"range":[373,350],"zero":false,"nice":false},
"axis":{"orient":"right","title":null,"values":[1,4],"format":"d","grid":true,"gridWidth":2,"gridColor":{"condition":{"test":"datum.value > 3","value":"#8c8c8c"},"value":"transparent"},"labelFlush":true,"domain":false,"tickSize":3,"tickColor":"#8c8c8c","labelFontSize":5.5,"labelColor":"#c8c8c8","labelFont":"DejaVu Sans","labelPadding":2}},
"color":{"condition":{"test":"datum.s3 == 'b'","value":"#1e90ff"},"value":"#ff0000"}}},
{"data":{"name":"bars"},"mark":{"type":"point","shape":"square","filled":true,"size":24,"opacity":1},
"encoding":{"x":{"field":"t","type":"temporal"},"y":{"datum":2,"type":"quantitative"},
"color":{"condition":{"test":"datum.s2 == 'b'","value":"#1e90ff"},"value":"#ff0000"}}},
{"data":{"values":[{"t":"2025-01-27T09:30:07","txt":"ind1 2 3"}]},"mark":{"type":"text","align":"left","baseline":"top","dy":1.5,"fontSize":5,"color":"#d8d8d8","font":"DejaVu Sans"},
"encoding":{"x":{"field":"t","type":"temporal"},"y":{"datum":4,"type":"quantitative"},"text":{"field":"txt"}}}
]},
{"layer":[
{"data":{"name":"bars"},"mark":{"type":"bar","size":4},
"encoding":{"x":{"field":"t","type":"temporal"},
"y":{"field":"v4","type":"quantitative","scale":{"domain":[-7307.658,4955.325],"range":[399,375],"zero":false,"nice":false},
"axis":{"orient":"right","title":null,"values":[-7307.658,4955.325],"format":".3f","grid":true,"gridWidth":2,"gridColor":{"condition":{"test":"datum.value > 0","value":"#8c8c8c"},"value":"transparent"},"labelFlush":true,"domain":false,"tickSize":3,"tickColor":"#8c8c8c","labelFontSize":5.5,"labelColor":"#c8c8c8","labelFont":"DejaVu Sans","labelPadding":2}},
"y2":{"datum":0},
"color":{"condition":{"test":"datum.k4 == 'b'","value":"#1e90ff"},"value":"#ff0000"}}},
{"data":{"values":[{"t":"2025-01-27T09:30:07","txt":"ind4 1099.285"}]},"mark":{"type":"text","align":"left","baseline":"top","dy":1.5,"fontSize":5,"color":"#d8d8d8","font":"DejaVu Sans"},
"encoding":{"x":{"field":"t","type":"temporal"},"y":{"datum":4955.325,"type":"quantitative"},"text":{"field":"txt"}}}
]},
{"layer":[
{"data":{"name":"bars"},"mark":{"type":"bar","size":4},
"encoding":{"x":{"field":"t","type":"temporal"},
"y":{"field":"v5","type":"quantitative","scale":{"domain":[-0.1606,0.0253],"range":[425,401],"zero":false,"nice":false},
"axis":{"orient":"right","title":null,"values":[-0.1606,0.0253],"format":".4f","grid":true,"gridWidth":2,"gridColor":{"condition":{"test":"datum.value > 0","value":"#8c8c8c"},"value":"transparent"},"labelFlush":true,"domain":false,"tickSize":3,"tickColor":"#8c8c8c","labelFontSize":5.5,"labelColor":"#c8c8c8","labelFont":"DejaVu Sans","labelPadding":2}},
"y2":{"datum":0},
"color":{"condition":{"test":"datum.k5 == 'b'","value":"#1e90ff"},"value":"#ff0000"}}},
{"data":{"values":[{"t":"2025-01-27T09:30:07","txt":"ind5( 24, 52, 18 ) -0.1150 -0.1339"}]},"mark":{"type":"text","align":"left","baseline":"top","dy":1.5,"fontSize":5,"color":"#d8d8d8","font":"DejaVu Sans"},
"encoding":{"x":{"field":"t","type":"temporal"},"y":{"datum":0.0253,"type":"quantitative"},"text":{"field":"txt"}}}
]},
{"layer":[
{"data":{"name":"bars"},"mark":{"type":"bar","size":4},
"encoding":{"x":{"field":"t","type":"temporal"},
"y":{"field":"v6","type":"quantitative","scale":{"domain":[-0.1583,0.0559],"range":[450,427],"zero":false,"nice":false},
"axis":{"orient":"right","title":null,"values":[-0.1583,0.0559],"format":".4f","grid":true,"gridWidth":2,"gridColor":{"condition":{"test":"datum.value > 0","value":"#8c8c8c"},"value":"transparent"},"labelFlush":true,"domain":false,"tickSize":3,"tickColor":"#8c8c8c","labelFontSize":5.5,"labelColor":"#c8c8c8","labelFont":"DejaVu Sans","labelPadding":2}},
"y2":{"datum":0},
"color":{"condition":{"test":"datum.k6 == 'b'","value":"#1e90ff"},"value":"#ff0000"}}},
{"data":{"values":[{"t":"2025-01-27T09:30:07","txt":"ind6( EMA, EMA ) -0.0229 -0.0227"}]},"mark":{"type":"text","align":"left","baseline":"top","dy":1.5,"fontSize":5,"color":"#d8d8d8","font":"DejaVu Sans"},
"encoding":{"x":{"field":"t","type":"temporal"},"y":{"datum":0.0559,"type":"quantitative"},"text":{"field":"txt"}}}
]},
{"layer":[
{"data":{"name":"bars"},"mark":{"type":"bar","size":4},
"encoding":{"x":{"field":"t","type":"temporal"},
"y":{"field":"v7","type":"quantitative","scale":{"domain":[-6,99],"range":[474,452],"zero":false,"nice":false},
"axis":{"orient":"right","title":null,"values":[-6,99],"format":"d","grid":true,"gridWidth":2,"gridColor":{"condition":{"test":"datum.value > 50","value":"#8c8c8c"},"value":"transparent"},"labelFlush":true,"domain":false,"tickSize":3,"tickColor":"#8c8c8c","labelFontSize":5.5,"labelColor":"#c8c8c8","labelFont":"DejaVu Sans","labelPadding":2}},
"y2":{"datum":50},
"color":{"condition":[{"test":"datum.k7 == 'b'","value":"#1e90ff"},{"test":"datum.k7 == 'y'","value":"#ffff00"},{"test":"datum.k7 == 'o'","value":"#8c8c00"}],"value":"#ff0000"}}},
{"data":{"values":[{"t":"2025-01-27T09:30:07","txt":"ind7(5) 38 53 38 50"}]},"mark":{"type":"text","align":"left","baseline":"top","dy":1.5,"fontSize":5,"color":"#d8d8d8","font":"DejaVu Sans"},
"encoding":{"x":{"field":"t","type":"temporal"},"y":{"datum":99,"type":"quantitative"},"text":{"field":"txt"}}}
]},
{"data":{"values":[{"t":"2025-01-27T10:03"},{"t":"2025-01-27T11:02"}]},"mark":{"type":"rule","color":"#a0a0a0","strokeDash":[2,2],"strokeWidth":1},
"encoding":{"x":{"field":"t","type":"temporal"}}},
{"layer":[
{"data":{"values":[{"t":"2025-01-27T09:55:11","p":155.698,"p2":155.667},{"t":"2025-01-27T10:01:53","p":155.762,"p2":155.762}]},
"mark":{"type":"area","orient":"vertical","color":"#ff0000","stroke":"#d8d8d8","strokeWidth":1},
"encoding":{"x":{"field":"t","type":"temporal"},"y":{"field":"p","type":"quantitative","scale":{"domain":[155.034,155.929],"range":[348,0],"zero":false,"nice":false},"axis":null},"y2":{"field":"p2"}}},
{"data":{"values":[{"t":"2025-01-27T09:49:53","t2":"2025-01-27T09:56:21","p":155.716,"p2":155.638}]},
"mark":{"type":"rect","color":"#ff0000","stroke":"#d8d8d8","strokeWidth":1.5,"cornerRadius":9},
"encoding":{"x":{"field":"t","type":"temporal"},"x2":{"field":"t2"},"y":{"field":"p","type":"quantitative","axis":null},"y2":{"field":"p2"}}},
{"data":{"values":[{"t":"2025-01-27T09:53:04","p":155.677,"txt":"SELL"}]},
"mark":{"type":"text","align":"center","baseline":"middle","font":"Liberation Sans","fontWeight":"bold","fontSize":14,"color":"#ffffff"},
"encoding":{"x":{"field":"t","type":"temporal"},"y":{"field":"p","type":"quantitative","axis":null},"text":{"field":"txt"}}},
{"data":{"values":[{"p":155.322,"t":"2025-01-27T11:07:53","t2":"2025-01-27T11:09:46"},{"p":155.163,"t":"2025-01-27T11:06:00","t2":"2025-01-27T11:06:00"}]},
"mark":{"type":"area","orient":"horizontal","color":"#ffffff","stroke":"#2a8fc0","strokeWidth":2},
"encoding":{"y":{"field":"p","type":"quantitative","axis":null},"x":{"field":"t","type":"temporal"},"x2":{"field":"t2"}}},
{"data":{"values":[{"t":"2025-01-27T11:04:14","t2":"2025-01-27T11:22:42","p":155.458,"p2":155.312}]},
"mark":{"type":"rect","color":"#ffffff","stroke":"#2a8fc0","strokeWidth":2.5,"cornerRadius":10},
"encoding":{"x":{"field":"t","type":"temporal"},"x2":{"field":"t2"},"y":{"field":"p","type":"quantitative","axis":null},"y2":{"field":"p2"}}},
{"data":{"values":[{"t":"2025-01-27T11:13:25","p":155.451,"txt":"チャートバーが３分足の\nMACDの下に位置しているの\nで、まだ、決済は有効では\nありません。"}]},
"mark":{"type":"text","align":"center","baseline":"top","lineBreak":"\n","lineHeight":12,"font":"Noto Sans CJK JP","fontWeight":"bold","fontSize":10.5,"color":"#000000"},
"encoding":{"x":{"field":"t","type":"temporal"},"y":{"field":"p","type":"quantitative","axis":null},"text":{"field":"txt"}}},
{"data":{"values":[{"t":"2025-01-27T11:25:46","p":155.068,"txt":"0.890"}]},
"mark":{"type":"text","align":"right","baseline":"middle","font":"Liberation Sans","fontSize":21,"color":"#ffffff"},
"encoding":{"x":{"field":"t","type":"temporal"},"y":{"field":"p","type":"quantitative","axis":null},"text":{"field":"txt"}}},
{"data":{"values":[{"t":"2025-01-27T09:36:21","p":155.199,"txt":"ドル円　１分足チャート"}]},
"mark":{"type":"text","align":"left","baseline":"middle","font":"Noto Sans CJK JP","fontWeight":"bold","fontSize":21,"color":"#8a8a8a","stroke":"#8a8a8a","strokeWidth":3},
"encoding":{"x":{"field":"t","type":"temporal"},"y":{"field":"p","type":"quantitative","axis":null},"text":{"field":"txt"}}},
{"data":{"values":[{"t":"2025-01-27T09:36:21","p":155.199,"txt":"ドル円　１分足チャート"}]},
"mark":{"type":"text","align":"left","baseline":"middle","font":"Noto Sans CJK JP","fontWeight":"bold","fontSize":21,"color":"#ffffff"},
"encoding":{"x":{"field":"t","type":"temporal"},"y":{"field":"p","type":"quantitative","axis":null},"text":{"field":"txt"}}},
{"data":{"values":[{"p":155.024,"t":"2025-01-27T11:03:04","t2":"2025-01-27T11:03:04"},{"p":154.931,"t":"2025-01-27T11:05:25","t2":"2025-01-27T11:08:35"}]},
"mark":{"type":"area","orient":"horizontal","color":"#8dc63f","stroke":"#d0e8b0","strokeWidth":1.5},
"encoding":{"y":{"field":"p","type":"quantitative","axis":null},"x":{"field":"t","type":"temporal"},"x2":{"field":"t2"}}},
{"data":{"values":[{"t":"2025-01-27T11:03:04","t2":"2025-01-27T11:19:32","p":154.939,"p2":154.821}]},
"mark":{"type":"rect","color":"#8dc63f","stroke":"#d4ecb4","strokeWidth":2,"cornerRadius":12},
"encoding":{"x":{"field":"t","type":"temporal"},"x2":{"field":"t2"},"y":{"field":"p","type":"quantitative","axis":null},"y2":{"field":"p2"}}},
{"data":{"values":[{"t":"2025-01-27T11:11:25","p":154.918,"txt":"３分足MACDが\nゴールデンクロス"}]},
"mark":{"type":"text","align":"center","baseline":"top","lineBreak":"\n","lineHeight":15,"font":"Noto Sans CJK JP","fontSize":14.5,"color":"#1f50a8"},
"encoding":{"x":{"field":"t","type":"temporal"},"y":{"field":"p","type":"quantitative","axis":null},"text":{"field":"txt"}}},
{"data":{"values":[{"t":"2025-01-27T11:02:14","p":155.047}]},
"mark":{"type":"point","shape":"circle","filled":false,"size":490,"color":"#f0f000","strokeWidth":1.5,"strokeDash":[3,2],"opacity":1},
"encoding":{"x":{"field":"t","type":"temporal"},"y":{"field":"p","type":"quantitative","axis":null}}},
{"data":{"values":[{"t":"2025-01-27T11:24:21","p":155.898,"txt":"Time: 18:04:59"}]},
"mark":{"type":"text","align":"right","baseline":"middle","font":"Liberation Sans","fontSize":10,"color":"#ffffff"},
"encoding":{"x":{"field":"t","type":"temporal"},"y":{"field":"p","type":"quantitative","axis":null},"text":{"field":"txt"}}},
{"data":{"values":[{"t":"2025-01-27T09:32:42","p":155.908,"txt":"USDJPY, M1:  US Dollar vs Japanese Yen"}]},
"mark":{"type":"text","align":"left","baseline":"middle","font":"DejaVu Sans","fontSize":5.5,"color":"#d8d8d8"},
"encoding":{"x":{"field":"t","type":"temporal"},"y":{"field":"p","type":"quantitative","axis":null},"text":{"field":"txt"}}},
{"data":{"values":[{"t":"2025-01-27T11:20:42","p":155.705,"txt":"15m-1H."},{"t":"2025-01-27T11:20:42","p":155.638,"txt":"3m-15m"},{"t":"2025-01-27T11:20:42","p":155.569,"txt":"1m-3m."}]},
"mark":{"type":"text","align":"left","baseline":"middle","font":"Liberation Sans","fontSize":8.5,"color":"#ffffff"},
"encoding":{"x":{"field":"t","type":"temporal"},"y":{"field":"p","type":"quantitative","axis":null},"text":{"field":"txt"}}},
{"data":{"values":[{"t":"2025-01-27T10:00:28","t2":"2025-01-27T10:04:56","p":154.704,"p2":154.678},{"t":"2025-01-27T10:59:46","t2":"2025-01-27T11:04:35","p":154.704,"p2":154.678}]},
"mark":{"type":"rect","color":"#ffffff"},
"encoding":{"x":{"field":"t","type":"temporal"},"x2":{"field":"t2"},"y":{"field":"p","type":"quantitative","axis":null},"y2":{"field":"p2"}}},
{"data":{"values":[{"t":"2025-01-27T10:02:42","p":154.691,"txt":"2025.01.27 10:03"},{"t":"2025-01-27T11:02:11","p":154.691,"txt":"2025.01.27 11:02"}]},
"mark":{"type":"text","align":"center","baseline":"middle","font":"DejaVu Sans","fontSize":4.6,"color":"#000000"},
"encoding":{"x":{"field":"t","type":"temporal"},"y":{"field":"p","type":"quantitative","axis":null},"text":{"field":"txt"}}}
]}
],
"resolve":{"scale":{"y":"independent"},"axis":{"y":"independent"}}
}
